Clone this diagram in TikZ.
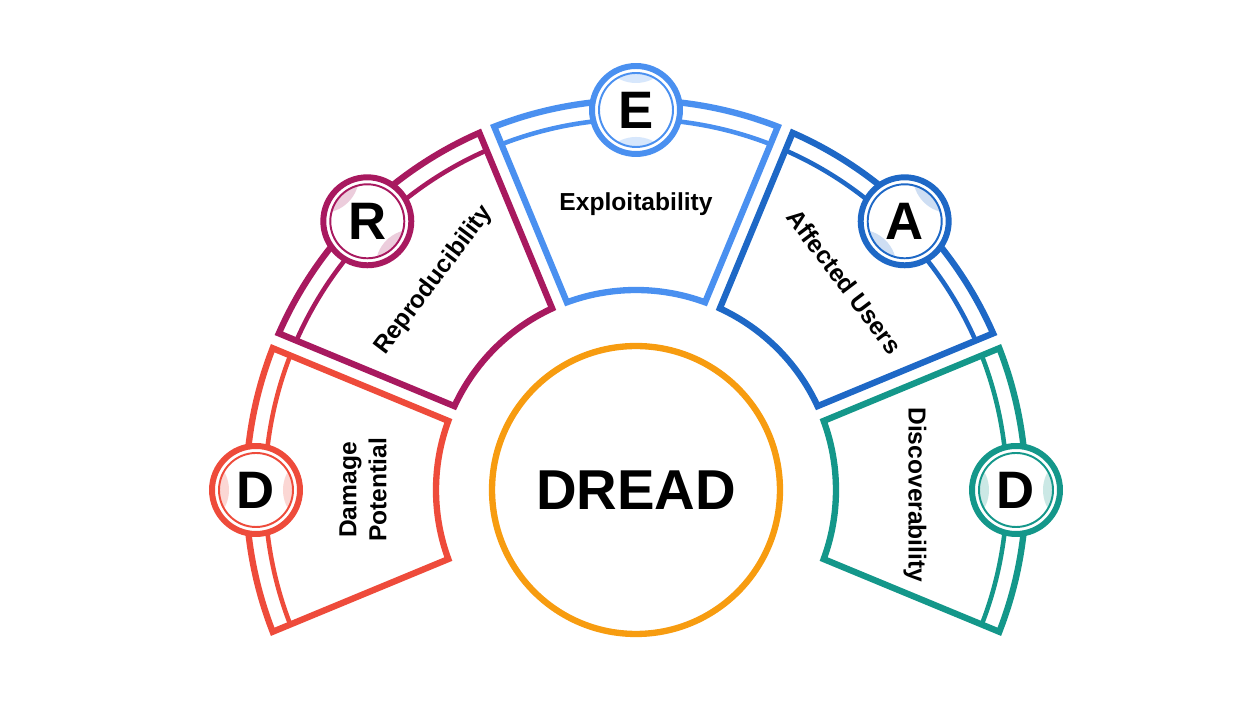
\documentclass[tikz,border=0pt]{standalone}
\usepackage{fontspec}
\setmainfont{Liberation Sans}
\usepackage{xcolor}
\usepackage{tikz}
\usetikzlibrary{positioning}
\usetikzlibrary{calc}

\definecolor{damagered}{HTML}{EE4B3B}
\definecolor{repromag}{HTML}{A8195F}
\definecolor{exploitblue}{HTML}{4A90F0}
\definecolor{affectblue}{HTML}{1E68C6}
\definecolor{discoteal}{HTML}{14978A}
\definecolor{huborange}{HTML}{F79C10}

\newcommand{\rin}{200}   % inner radius of the sectors
\newcommand{\rout}{390}  % outer radius
\newcommand{\rband}{371} % thin inner arc
\newcommand{\rlet}{380}  % where the letter rings sit

% #1 colour, #2 middle angle
\newcommand{\dreadsector}[2]{%
	\draw[band, draw=#1] ({#2+22.5-1.24}:\rband) arc[start angle={#2+22.5-1.24}, end angle={#2-22.5+1.24}, radius=\rband];
	\draw[sector, draw=#1] ({#2-22.5+2.29}:\rin) arc[start angle={#2-22.5+2.29}, end angle={#2+22.5-2.29}, radius=\rin] -- ({#2+22.5-1.18}:\rout) arc[start angle={#2+22.5-1.18}, end angle={#2-22.5+1.18}, radius=\rout] -- cycle;
}

% #1 name, #2 colour, #3 angle, #4 letter
\newcommand{\dreadletter}[4]{%
	\fill[white] (#3:\rlet) circle[radius=44];
	\begin{scope}
		\clip (#3:\rlet) circle[radius=37];
		\fill[#2!22] ($(#3:\rlet)+(#3:64)$) circle[radius=37];
		\fill[#2!22] ($(#3:\rlet)-(#3:64)$) circle[radius=37];
	\end{scope}
	\draw[draw=#2, line width=1.1pt] (#3:\rlet) circle[radius=37];
	\node[letterring, draw=#2] (#1) at (#3:\rlet) {#4};
}

\tikzset{
	sector/.style={line width=3.6pt, line join=miter},
	band/.style={line width=2.6pt},
	letterring/.style={circle, line width=3.4pt, minimum size=1.76cm, inner sep=0pt, font=\fontsize{30}{30}\selectfont\bfseries},
	seglabel/.style={font=\fontsize{14}{17}\selectfont\bfseries, align=center, inner sep=0pt},
}

\begin{document}
\begin{tikzpicture}[x=0.02cm, y=0.02cm]
			\useasboundingbox (-636,-225) rectangle (614,490);
			%coordinates
			\coordinate (orig) at (0,0);
			
			%sectors
			\dreadsector{damagered}{180}
			\dreadsector{repromag}{135}
			\dreadsector{exploitblue}{90}
			\dreadsector{affectblue}{45}
			\dreadsector{discoteal}{0}
			
			%letters
			\dreadletter{Ldamage}{damagered}{180}{D}
			\dreadletter{Lrepro}{repromag}{135}{R}
			\dreadletter{Lexploit}{exploitblue}{90}{E}
			\dreadletter{Laffect}{affectblue}{45}{A}
			\dreadletter{Ldisco}{discoteal}{0}{D}
			
			%nodes
			\node[draw=huborange, circle, line width=3.6pt, minimum size=5.76cm, font=\fontsize{32}{32}\selectfont\bfseries] (dread) at (orig) {DREAD};
			\node[seglabel, rotate=90] (damage) at (180:273) {Damage\\Potential};
			\node[seglabel, rotate=53] (repro) at (134:291) {Reproducibility};
			\node[seglabel] (exploit) at (90:286) {Exploitability};
			\node[seglabel, rotate=-53] (affect) at (45:295) {Affected Users};
			\node[seglabel, rotate=-90] (disco) at (-1:279) {Discoverability};
\end{tikzpicture}
\end{document}
